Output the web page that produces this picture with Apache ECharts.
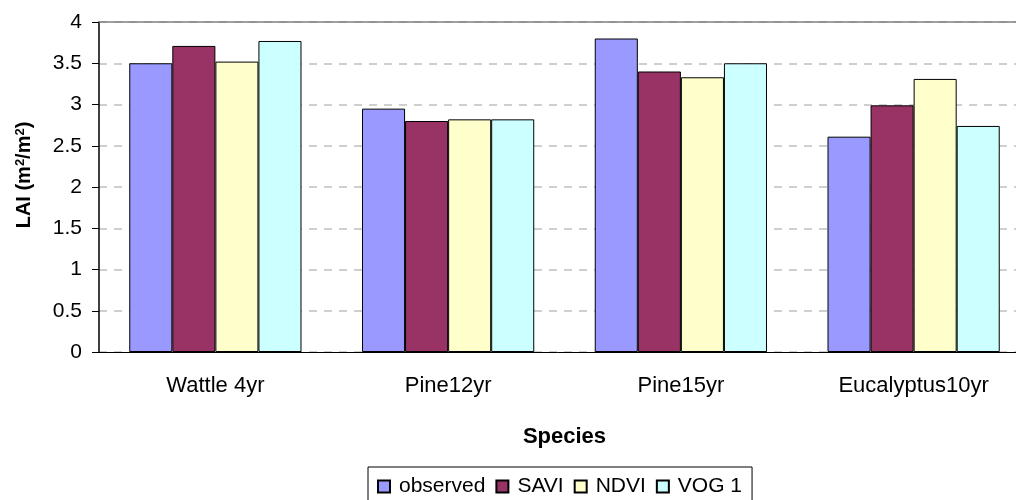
<!DOCTYPE html>
<html>
<head>
<meta charset="utf-8">
<script src="https://cdn.jsdelivr.net/npm/echarts@6/dist/echarts.min.js"></script>
<style>
  html, body { margin: 0; padding: 0; background: #fff; }
  #chart { width: 1016px; height: 500px; }
</style>
</head>
<body>
<div id="chart"></div>
<script>
// categories and values
var species = ['Wattle 4yr', 'Pine12yr', 'Pine15yr', 'Eucalyptus10yr'];
var observed = [3.50, 2.95, 3.80, 2.61];
var savi = [3.71, 2.80, 3.40, 2.99];
var ndvi = [3.52, 2.82, 3.33, 3.31];
var vog1 = [3.77, 2.82, 3.50, 2.74];

var font = '"Liberation Sans", Arial, sans-serif';

var chart = echarts.init(document.getElementById('chart'));

function bar(name, color, data) {
  return {
    name: name,
    type: 'bar',
    data: data,
    barGap: '0%',
    barCategoryGap: '26%',
    itemStyle: { color: color, borderColor: '#000', borderWidth: 1 }
  };
}

var option = {
  animation: false,
  textStyle: { fontFamily: font },
  // plot runs past the right edge of the picture
  grid: { left: 99, right: -14, top: 22, bottom: 148, containLabel: false, outerBoundsMode: 'none' },
  legend: {
    bottom: -9,
    left: 368,
    itemWidth: 12,
    itemHeight: 12,
    itemGap: 10,
    padding: [9, 10, 12, 9],
    borderColor: '#000',
    borderWidth: 1,
    icon: 'rect',
    textStyle: { fontFamily: font, fontSize: 21, color: '#000', padding: [0, 0, 0, 4] },
    data: ['observed', 'SAVI', 'NDVI', 'VOG 1']
  },
  xAxis: [{
    type: 'category',
    data: species,
    name: 'Species',
    nameLocation: 'middle',
    nameGap: 74,
    nameTextStyle: { fontFamily: font, fontSize: 22, fontWeight: 'bold', color: '#000' },
    axisLine: { lineStyle: { color: '#000', width: 1 } },
    axisTick: { length: 7, lineStyle: { color: '#000' } },
    axisLabel: { margin: 23, fontSize: 22, color: '#000', fontFamily: font }
  }, {
    type: 'category',
    position: 'top',
    data: species,
    axisLine: { lineStyle: { color: '#808080', width: 1.5 } },
    axisTick: { show: false },
    axisLabel: { show: false }
  }],
  yAxis: {
    type: 'value',
    min: 0,
    max: 4,
    interval: 0.5,
    name: 'LAI (m{sup|2}/m{sup|2})',
    nameLocation: 'middle',
    nameGap: 64,
    nameTextStyle: {
      fontFamily: font, fontSize: 20, fontWeight: 'bold', color: '#000',
      padding: [0, 0, 0, 24],
      rich: { sup: { fontSize: 13, fontWeight: 'bold', verticalAlign: 'top', padding: [0, 0, 8, 0] } }
    },
    axisLine: { show: true, lineStyle: { color: '#000', width: 1.5 } },
    axisTick: { show: true, length: 7, lineStyle: { color: '#000' } },
    axisLabel: { margin: 17, fontSize: 21, color: '#000', fontFamily: font },
    splitLine: { lineStyle: { color: '#c0c0c0', type: [8, 7], width: 1.5 } }
  },
  series: [
    bar('observed', '#9999ff', observed),
    bar('SAVI', '#993366', savi),
    bar('NDVI', '#ffffcc', ndvi),
    bar('VOG 1', '#ccffff', vog1)
  ]
};

chart.setOption(option);
</script>
</body>
</html>
